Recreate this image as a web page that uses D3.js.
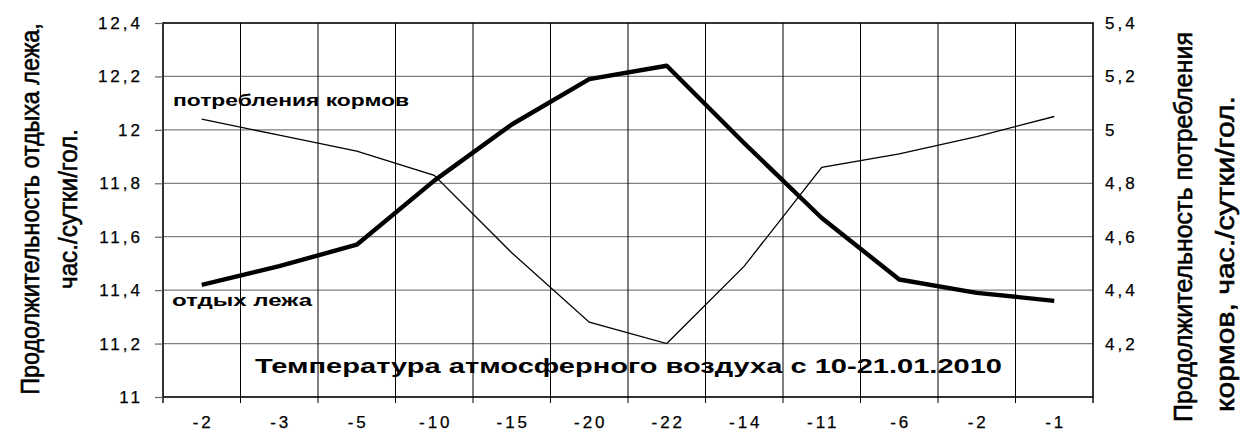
<!DOCTYPE html>
<html>
<head>
<meta charset="utf-8">
<script src="https://cdn.jsdelivr.net/npm/d3@7"></script>
<style>
  html, body { margin: 0; padding: 0; background: #fff; }
  svg { display: block; }
</style>
</head>
<body>
<svg id="chart" width="1243" height="432"></svg>
<script>
const categories = ["-2", "-3", "-5", "-10", "-15", "-20", "-22", "-14", "-11", "-6", "-2", "-1"];
const restValues = [11.42, 11.49, 11.57, 11.81, 12.02, 12.19, 12.24, 11.95, 11.67, 11.44, 11.39, 11.36];
const feedValues = [5.04, 4.98, 4.92, 4.83, 4.54, 4.28, 4.20, 4.49, 4.86, 4.91, 4.975, 5.05];
const leftTicks = [11, 11.2, 11.4, 11.6, 11.8, 12, 12.2, 12.4];
const rightTicks = [4.2, 4.4, 4.6, 4.8, 5, 5.2, 5.4];

const fmt = v => String(+v.toFixed(1)).replace(".", ",");

const svg = d3.select("#chart");
const m = { left: 163, right: 1093, top: 23, bottom: 397 };

const x = d3.scaleBand().domain(d3.range(categories.length)).range([m.left, m.right]).padding(0);
const yL = d3.scaleLinear().domain([11, 12.4]).range([m.bottom, m.top]);
const yR = d3.scaleLinear().domain([4.0, 5.4]).range([m.bottom, m.top]);

const tickFont = "Arial, 'Liberation Sans', sans-serif";

// horizontal gridlines (gray)
svg.append("g").selectAll("line").data(leftTicks.slice(1, -1)).join("line")
  .attr("x1", m.left).attr("x2", m.right)
  .attr("y1", d => yL(d)).attr("y2", d => yL(d))
  .attr("stroke", "#808080").attr("stroke-width", 1.2);

// vertical gridlines (black) at category boundaries
const bounds = d3.range(1, categories.length).map(i => x(i));
svg.append("g").selectAll("line").data(bounds).join("line")
  .attr("x1", d => d).attr("x2", d => d)
  .attr("y1", m.top).attr("y2", m.bottom + 6)
  .attr("stroke", "#000").attr("stroke-width", 1);

// plot frame
svg.append("rect")
  .attr("x", m.left).attr("y", m.top)
  .attr("width", m.right - m.left).attr("height", m.bottom - m.top)
  .attr("fill", "none").attr("stroke", "#000").attr("stroke-width", 1.6);

// bottom end ticks
svg.append("g").selectAll("line").data([m.left, m.right]).join("line")
  .attr("x1", d => d).attr("x2", d => d)
  .attr("y1", m.bottom).attr("y2", m.bottom + 6)
  .attr("stroke", "#000").attr("stroke-width", 1.4);

function styleTicks(g) {
  g.selectAll(".tick text")
    .attr("font-family", tickFont)
    .attr("font-size", 17).attr("fill", "#000")
    .attr("stroke", "#000").attr("stroke-width", 0.25)
    .attr("letter-spacing", "3px");
}

// left axis ticks and labels
const leftAxis = d3.axisLeft(yL).tickValues(leftTicks).tickSize(8).tickPadding(12).tickFormat(fmt);
const gL = svg.append("g").attr("transform", `translate(${m.left},0)`).call(leftAxis);
gL.select(".domain").remove();
gL.selectAll(".tick line").attr("stroke", "#666").attr("stroke-width", 1.2);
styleTicks(gL);

// right axis labels
const rightAxis = d3.axisRight(yR).tickValues(rightTicks).tickSize(0).tickPadding(12).tickFormat(fmt);
const gR = svg.append("g").attr("transform", `translate(${m.right},0)`).call(rightAxis);
gR.select(".domain").remove();
styleTicks(gR);

// bottom category labels
const bottomAxis = d3.axisBottom(x).tickSize(0).tickPadding(0).tickFormat(i => categories[i]);
const gB = svg.append("g").attr("transform", `translate(0,${m.bottom})`).call(bottomAxis);
gB.select(".domain").remove();
styleTicks(gB);
gB.selectAll(".tick text")
  .attr("dy", null).attr("y", 31)
  .attr("dx", "1.5px");

const cx = i => x(i) + x.bandwidth() / 2;

// thin line: feed consumption (right axis)
svg.append("path")
  .datum(feedValues)
  .attr("fill", "none").attr("stroke", "#000").attr("stroke-width", 1.3)
  .attr("d", d3.line().x((d, i) => cx(i)).y(d => yR(d)));

// thick line: lying rest (left axis)
svg.append("path")
  .datum(restValues)
  .attr("fill", "none").attr("stroke", "#000").attr("stroke-width", 4.4)
  .attr("stroke-linejoin", "round")
  .attr("d", d3.line().x((d, i) => cx(i)).y(d => yL(d)));

// in-plot labels
const boldFont = "Arial, 'Liberation Sans', sans-serif";
svg.append("text").attr("x", 173).attr("y", 106)
  .attr("font-family", boldFont).attr("font-weight", "bold").attr("font-size", 16)
  .attr("textLength", 236).attr("lengthAdjust", "spacingAndGlyphs")
  .text("потребления кормов");
svg.append("text").attr("x", 172).attr("y", 306)
  .attr("font-family", boldFont).attr("font-weight", "bold").attr("font-size", 16)
  .attr("textLength", 140).attr("lengthAdjust", "spacingAndGlyphs")
  .text("отдых лежа");
svg.append("text").attr("x", 255).attr("y", 373)
  .attr("font-family", boldFont).attr("font-weight", "bold").attr("font-size", 21)
  .attr("textLength", 747).attr("lengthAdjust", "spacingAndGlyphs")
  .text("Температура атмосферного воздуха с 10-21.01.2010");

// axis titles: condensed by horizontal scaling to the reference length
const narrow = "'Liberation Sans Narrow', 'Arial Narrow', Arial, 'Liberation Sans', sans-serif";
function vtitle(xb, yc, len, txt) {
  const t = svg.append("text")
    .attr("text-anchor", "middle")
    .attr("font-family", narrow).attr("font-size", 26)
    .attr("stroke", "#000").attr("stroke-width", 0.6)
    .text(txt);
  const natural = t.node().getComputedTextLength();
  const sx = len / natural;
  t.attr("transform", `translate(${xb},${yc}) rotate(-90) scale(${sx},1)`);
}
vtitle(39, 209, 372, "Продолжительность отдыха лежа,");
vtitle(77, 209, 160, "час./сутки/гол.");
vtitle(1192, 227, 390, "Продолжительность потребления");
vtitle(1234, 254, 316, "кормов, час./сутки/гол.");
</script>
</body>
</html>
